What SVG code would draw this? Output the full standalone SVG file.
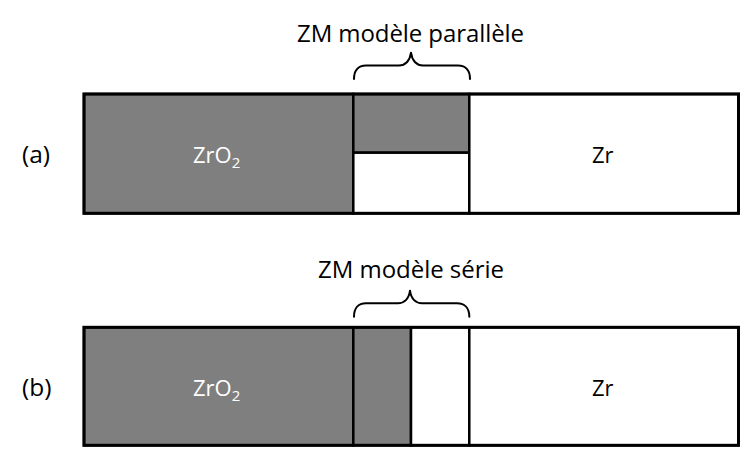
<svg xmlns="http://www.w3.org/2000/svg" width="747" height="468" viewBox="0 0 747 468">
  <style>
    .ox { fill: #7f7f7f; stroke: #000; stroke-width: 2.5; }
    .mt { fill: #ffffff; stroke: #000; stroke-width: 2.5; }
    .frame { fill: none; stroke: #000; stroke-width: 3; }
    .brace { fill: none; stroke: #000; stroke-width: 2; stroke-linecap: round; stroke-linejoin: round; }
    .lbl { font-family: "Open Sans", "Liberation Sans", sans-serif; font-size: 22px; fill: #000; }
    .tag { font-family: "Open Sans", "Liberation Sans", sans-serif; font-size: 24.5px; fill: #000; }
    .wht { fill: #ffffff; }
    .ttl { font-family: "Open Sans", "Liberation Sans", sans-serif; font-size: 24px; fill: #000; }
    .sub { font-size: 15px; }
  </style>
  <rect width="747" height="468" fill="#ffffff"/>

  <!-- Panel (a) -->
  <g id="panel-a">
    <g id="a-zro2">
      <rect class="ox" x="84" y="94" width="269.3" height="119.3"/>
      <text class="lbl wht" x="193" y="162.5">ZrO<tspan class="sub" dy="5">2</tspan></text>
    </g>
    <g id="a-zm-top">
      <rect class="ox" x="353.3" y="94" width="116" height="58.7"/>
    </g>
    <g id="a-zm-bottom">
      <rect class="mt" x="353.3" y="152.7" width="116" height="60.6"/>
    </g>
    <g id="a-zr">
      <rect class="mt" x="469.3" y="94" width="269.2" height="119.3"/>
      <text class="lbl" x="592" y="162.5">Zr</text>
    </g>
    <rect class="frame" x="84" y="94" width="654.5" height="119.3"/>
    <text class="tag" x="22" y="162.5">(a)</text>
    <text class="ttl" x="297" y="41.7" textLength="227" lengthAdjust="spacing">ZM modèle parallèle</text>
  </g>

  <!-- Panel (b) -->
  <g id="panel-b">
    <g id="b-zro2">
      <rect class="ox" x="84" y="327.3" width="269.3" height="118"/>
      <text class="lbl wht" x="193" y="396">ZrO<tspan class="sub" dy="5">2</tspan></text>
    </g>
    <g id="b-zm-left">
      <rect class="ox" x="353.3" y="327.3" width="57.7" height="118"/>
    </g>
    <g id="b-zm-right">
      <rect class="mt" x="411" y="327.3" width="58.3" height="118"/>
    </g>
    <g id="b-zr">
      <rect class="mt" x="469.3" y="327.3" width="269.2" height="118"/>
      <text class="lbl" x="592" y="396">Zr</text>
    </g>
    <rect class="frame" x="84" y="327.3" width="654.5" height="118"/>
    <text class="tag" x="22" y="396">(b)</text>
    <text class="ttl" x="318" y="278.3" textLength="186" lengthAdjust="spacing">ZM modèle série</text>
  </g>

  <!-- Braces -->
  <g id="connectors">
    <path class="brace" d="M354,79 C354,71 358,65.5 366,65.5 L399,65.5 C405,65.5 410,61 411,52.7 C412,61 417,65.5 423,65.5 L458,65.5 C466,65.5 470,71 470,79"/>
    <path class="brace" d="M354,316.7 C354,308.7 358,303.3 366,303.3 L398,303.3 C404,303.3 409,299 410,290.7 C411,299 416,303.3 422,303.3 L457,303.3 C465,303.3 469.3,308.7 469.3,316.7"/>
  </g>
</svg>
